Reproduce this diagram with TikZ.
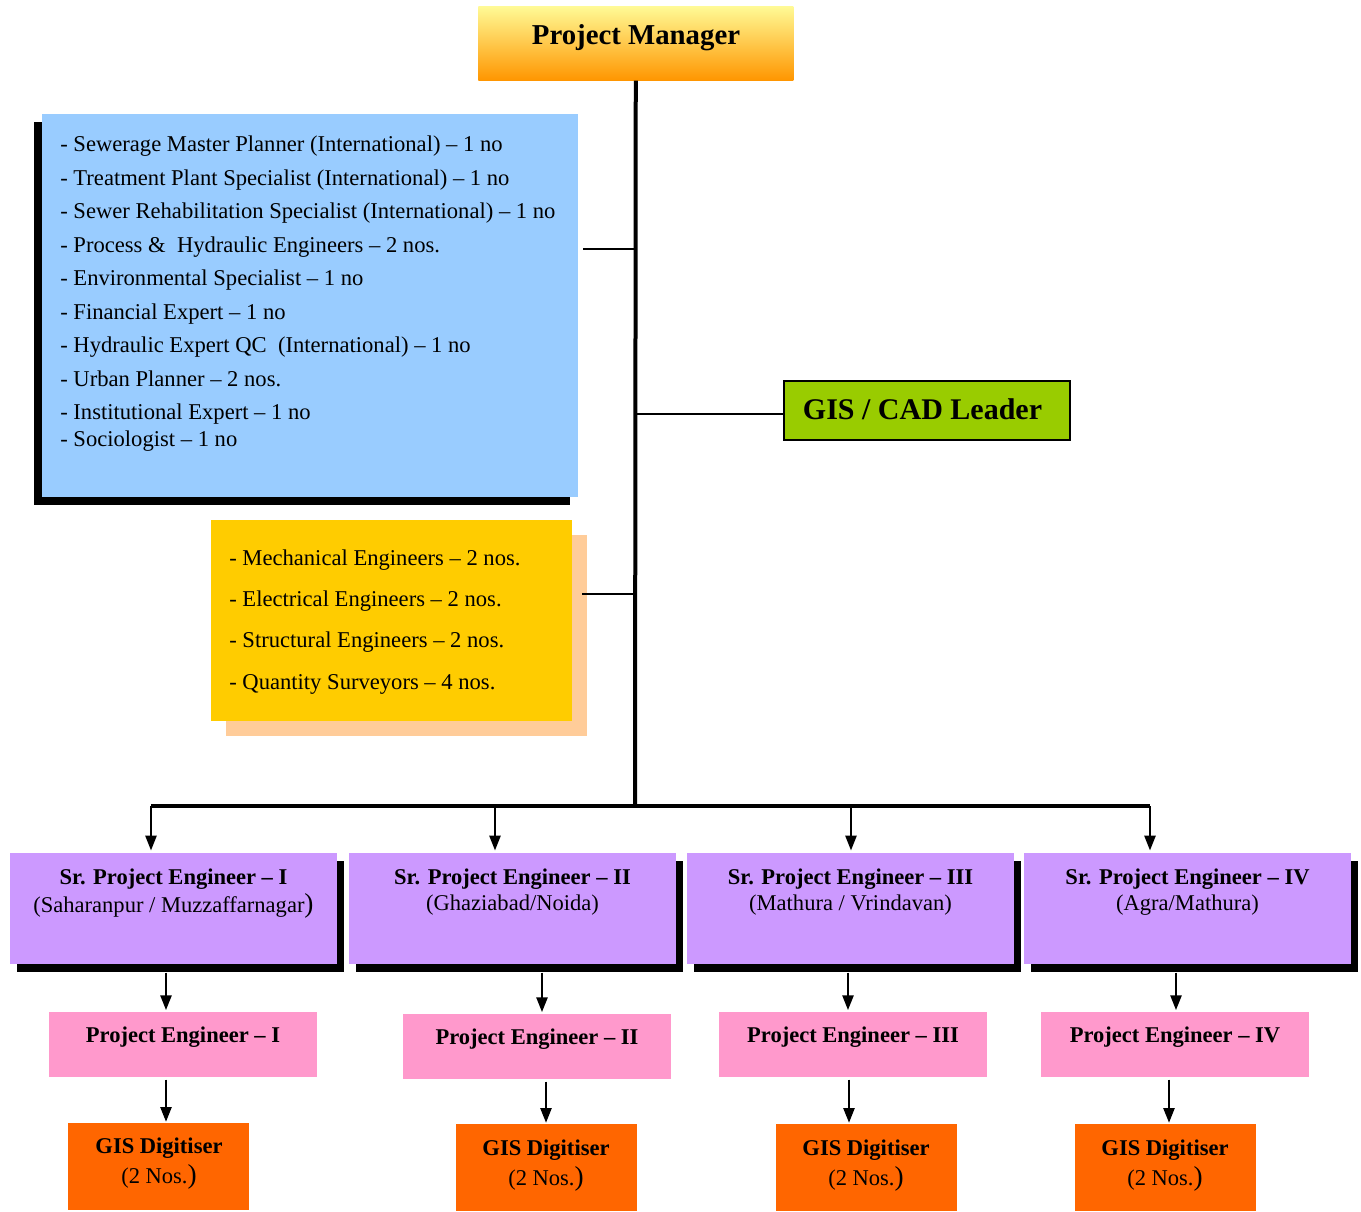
\documentclass[tikz,border=0pt]{standalone}
\usepackage{fontspec}
\setmainfont{Liberation Serif}
\usetikzlibrary{shadows,arrows.meta}
\definecolor{cblue}{RGB}{153,204,255}
\definecolor{cyellow}{RGB}{255,204,0}
\definecolor{cpeach}{RGB}{255,204,153}
\definecolor{cgreen}{RGB}{153,204,0}
\definecolor{cpurple}{RGB}{204,153,255}
\definecolor{cpink}{RGB}{255,153,204}
\definecolor{corange}{RGB}{255,102,0}
\definecolor{pmtop}{RGB}{255,250,150}
\definecolor{pmmid}{RGB}{255,218,110}
\definecolor{pmbot}{RGB}{255,150,0}
\tikzset{
  x=0.75pt, y=-0.75pt,
  boxbase/.style={rectangle, draw=none, inner sep=0pt, anchor=north west},
  pmbox/.style={boxbase, minimum width=236.25pt, minimum height=55.5pt,
     top color=pmtop, middle color=pmmid, bottom color=pmbot},
  bluebox/.style={boxbase, fill=cblue, minimum width=402pt, minimum height=287.25pt,
     drop shadow={shadow xshift=-6pt, shadow yshift=-6pt, fill=black, opacity=1}},
  yellowbox/.style={boxbase, fill=cyellow, minimum width=270.75pt, minimum height=150.75pt,
     drop shadow={shadow xshift=11.25pt, shadow yshift=-11.25pt, fill=cpeach, opacity=1}},
  gcbox/.style={boxbase, fill=cgreen, draw=black, line width=1.2pt, minimum width=214.5pt, minimum height=44.25pt},
  srbox/.style={boxbase, fill=cpurple, minimum width=245.25pt, minimum height=83.25pt,
     drop shadow={shadow xshift=5.25pt, shadow yshift=-6pt, fill=black, opacity=1}},
  pebox/.style={boxbase, fill=cpink, minimum width=201pt, minimum height=48.75pt},
  gisbox/.style={boxbase, fill=corange, minimum width=135.75pt, minimum height=65.25pt},
  listtxt/.style={anchor=base west, inner sep=0pt, font=\fontsize{16.95pt}{19pt}\selectfont},
  ctxt/.style={anchor=base, inner sep=0pt, font=\fontsize{16.9pt}{19pt}\selectfont},
  btxt/.style={anchor=base, inner sep=0pt, font=\fontsize{16.9pt}{19pt}\selectfont\bfseries},
  pmtxt/.style={anchor=base, inner sep=0pt, font=\fontsize{21.6pt}{24pt}\selectfont\bfseries},
  gctxt/.style={anchor=base, inner sep=0pt, font=\fontsize{22.5pt}{24pt}\selectfont\bfseries},
  trunk/.style={line width=3pt},
  branch/.style={line width=1.5pt},
  arr/.style={line width=1.1pt, -{Triangle[width=8.5pt,length=11pt]}},
}
\newcommand{\bigparen}{{\fontsize{20.5pt}{20pt}\selectfont )}}
\begin{document}
\begin{tikzpicture}
\useasboundingbox (0,0) rectangle (1361,1211);
% boxes
\node[pmbox] (pm) at (478,6) {};
\node[bluebox] (blue) at (42,114) {};
\node[yellowbox] (yel) at (211,520) {};
\node[gcbox] (gc) at (783,380) {};
\node[srbox] (s1) at (10,853) {};
\node[srbox] (s2) at (349,853) {};
\node[srbox] (s3) at (687,853) {};
\node[srbox] (s4) at (1024,853) {};
\node[pebox] (p1) at (49,1012) {};
\node[pebox] (p2) at (403,1014) {};
\node[pebox] (p3) at (719,1012) {};
\node[pebox] (p4) at (1041,1012) {};
\node[gisbox] (g1) at (68,1123) {};
\node[gisbox] (g2) at (456,1124) {};
\node[gisbox] (g3) at (776,1124) {};
\node[gisbox] (g4) at (1075,1124) {};
% texts
\node[pmtxt] (pmt) at (636,44) {Project Manager};
\node[gctxt] (gct) at (922.5,419) {GIS / CAD Leader};
\node[listtxt] (b1) at (60,151) {- Sewerage Master Planner (International) – 1 no};
\node[listtxt] (b2) at (60,185) {- Treatment Plant Specialist (International) – 1 no};
\node[listtxt] (b3) at (60,218) {- Sewer Rehabilitation Specialist (International) – 1 no};
\node[listtxt] (b4) at (60,252) {- Process \&\ \ Hydraulic Engineers – 2 nos.};
\node[listtxt] (b5) at (60,285) {- Environmental Specialist – 1 no};
\node[listtxt] (b6) at (60,319) {- Financial Expert – 1 no};
\node[listtxt] (b7) at (60,352) {- Hydraulic Expert QC\ \ (International) – 1 no};
\node[listtxt] (b8) at (60,386) {- Urban Planner – 2 nos.};
\node[listtxt] (b9) at (60,419) {- Institutional Expert – 1 no};
\node[listtxt] (b10) at (60,446) {- Sociologist – 1 no};
\node[listtxt] (y1) at (229,565) {- Mechanical Engineers – 2 nos.};
\node[listtxt] (y2) at (229,606) {- Electrical Engineers – 2 nos.};
\node[listtxt] (y3) at (229,647) {- Structural Engineers – 2 nos.};
\node[listtxt] (y4) at (229,689) {- Quantity Surveyors – 4 nos.};
\node[btxt] (s1a) at (173.5,884) {Sr. Project Engineer – I};
\node[ctxt] (s1b) at (173.5,912) {(Saharanpur / Muzzaffarnagar\bigparen};
\node[btxt] (s2a) at (512.5,884) {Sr. Project Engineer – II};
\node[ctxt] (s2b) at (512.5,910) {(Ghaziabad/Noida)};
\node[btxt] (s3a) at (850.5,884) {Sr. Project Engineer – III};
\node[ctxt] (s3b) at (850.5,910) {(Mathura / Vrindavan)};
\node[btxt] (s4a) at (1187.5,884) {Sr. Project Engineer – IV};
\node[ctxt] (s4b) at (1187.5,910) {(Agra/Mathura)};
\node[btxt] (p1t) at (183,1042) {Project Engineer – I};
\node[btxt] (p2t) at (537,1044) {Project Engineer – II};
\node[btxt] (p3t) at (853,1042) {Project Engineer – III};
\node[btxt] (p4t) at (1175,1042) {Project Engineer – IV};
\foreach \g/\cx/\dy in {g1/159/0, g2/546/2, g3/866/2, g4/1165/2}{
  \node[btxt] (\g a) at (\cx,1153+\dy) {GIS Digitiser};
  \node[ctxt] (\g b) at (\cx,1183+\dy) {(2 Nos.\bigparen};
}
% connector coordinates
\coordinate (tbot) at (635,806);
\coordinate (jb) at (635,249);
\coordinate (jy) at (635,594);
\coordinate (jg) at (635,414);
\coordinate (yl) at (582,594);
\coordinate (hl) at (151,806);
\coordinate (hr) at (1150,806);
\coordinate (a2) at (495,806);
\coordinate (a3) at (851,806);
\coordinate (x1) at (166,0);
\coordinate (x2) at (542,0);
\coordinate (x3) at (848,0);
\coordinate (x4) at (1176,0);
\coordinate (z1) at (166,0);
\coordinate (z2) at (546,0);
\coordinate (z3) at (849,0);
\coordinate (z4) at (1169,0);
% connectors
\draw[trunk] (pm.south) -- (tbot);
\draw[branch] (jb) -- ([xshift=3pt]blue.east |- jb);
\draw[branch] (jy) -- (yl);
\draw[branch] ([xshift=1.5pt]jg) -- (gc.west |- jg);
\draw[line width=2.6pt] (hl) -- (hr);
\draw[arr, shorten >=2pt] (hl) -- (hl |- s1.north);
\draw[arr, shorten >=2pt] (a2) -- (a2 |- s2.north);
\draw[arr, shorten >=2pt] (a3) -- (a3 |- s3.north);
\draw[arr, shorten >=2pt] (hr) -- (hr |- s4.north);
\draw[arr, shorten <=6pt, shorten >=1.5pt] (s1.south -| x1) -- (p1.north -| x1);
\draw[arr, shorten <=6pt, shorten >=1.5pt] (s2.south -| x2) -- (p2.north -| x2);
\draw[arr, shorten <=6pt, shorten >=1.5pt] (s3.south -| x3) -- (p3.north -| x3);
\draw[arr, shorten <=6pt, shorten >=1.5pt] (s4.south -| x4) -- (p4.north -| x4);
\draw[arr, shorten <=1.5pt, shorten >=1pt] (p1.south -| z1) -- (g1.north -| z1);
\draw[arr, shorten <=1.5pt, shorten >=1pt] (p2.south -| z2) -- (g2.north -| z2);
\draw[arr, shorten <=1.5pt, shorten >=1pt] (p3.south -| z3) -- (g3.north -| z3);
\draw[arr, shorten <=1.5pt, shorten >=1pt] (p4.south -| z4) -- (g4.north -| z4);
\end{tikzpicture}
\end{document}
